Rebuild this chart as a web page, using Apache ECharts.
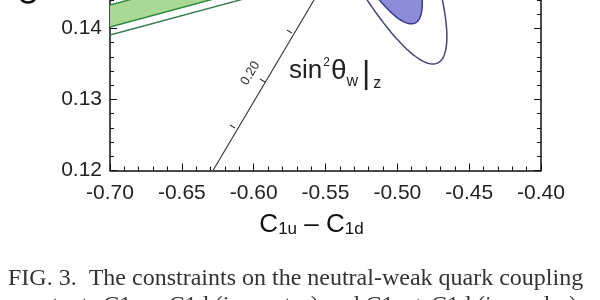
<!DOCTYPE html>
<html>
<head>
<meta charset="utf-8">
<style>
    html, body {
        margin: 0;
        padding: 0;
        overflow: hidden;
        background: #fff;
    }
    #chart {
        position: absolute;
        left: 0;
        top: -43px;
    }
</style>
</head>
<body>
<div id="chart" style="width:600px; height:343px;"></div>
<script src="https://cdn.jsdelivr.net/npm/echarts@6/dist/echarts.min.js"></script>
<script>
    // axis ranges (the top of the plot is cut off by the window)
    var xRange = [-0.70, -0.40];
    var yRange = [0.12, 0.15];

    // green band: edges given by two [x, y] points each
    var bandInnerLow = [[-0.70, 0.14021], [-0.55, 0.14841]];
    var bandInnerHigh = [[-0.70, 0.14331], [-0.55, 0.15151]];
    var bandOuterLow = [[-0.70, 0.13908], [-0.55, 0.14728]];
    var bandOuterHigh = [[-0.70, 0.14444], [-0.55, 0.15264]];

    // blue contours: [center, semi-axis 1, semi-axis 2]
    var ellipseOuter = [[-0.5309, 0.16066], [-0.0589, 0.02552], [0.0284, 0.00268]];
    var ellipseInner = [[-0.5336, 0.16066], [-0.0459, 0.0199], [0.0222, 0.00209]];

    // sin^2 theta_w line and its ticks
    var sinLine = [[-0.6283, 0.12], [-0.5112, 0.16]];
    var sinTicks = [[-0.6130, 0.12599], [-0.5921, 0.13246], [-0.5733, 0.13937]];
    var sinTickLabels = ['', '0.20', ''];

    var chart = echarts.init(document.getElementById('chart'), null, {renderer: 'canvas'});

    function ellipsePoints(api, e) {
        var pts = [];
        for (var i = 0; i <= 160; i++) {
            var t = i / 160 * Math.PI * 2;
            pts.push(api.coord([
                e[0][0] + Math.cos(t) * e[1][0] + Math.sin(t) * e[2][0],
                e[0][1] + Math.cos(t) * e[1][1] + Math.sin(t) * e[2][1]
            ]));
        }
        return pts;
    }

    function coords(api, arr) {
        return arr.map(function (p) { return api.coord(p); });
    }

    var axisFont = {fontFamily: 'Liberation Sans', fontSize: 21, color: '#222'};
    var tickStyle = {color: '#111'};

    chart.setOption({
        backgroundColor: '#fff',
        animation: false,
        grid: {left: 110, right: 59, top: 0.5, bottom: 129.5, outerBoundsMode: 'none', containLabel: false},
        xAxis: {
            type: 'value', min: xRange[0], max: xRange[1], interval: 0.05,
            axisLine: {lineStyle: {color: '#111', width: 1.5}},
            axisTick: {inside: true, length: 7, lineStyle: tickStyle},
            minorTick: {show: true, splitNumber: 5, length: 4, lineStyle: tickStyle},
            splitLine: {show: false},
            axisLabel: Object.assign({margin: 12, formatter: function (v) { return v.toFixed(2); }}, axisFont),
            name: '{c|C}{s|1u}{d| – }{c|C}{s|1d}',
            nameLocation: 'middle',
            nameGap: 41,
            nameTextStyle: {
                padding: [0, 28, 0, 0],
                rich: {
                    c: {fontFamily: 'Liberation Sans', fontSize: 26, lineHeight: 26, verticalAlign: 'bottom', color: '#111'},
                    s: {fontFamily: 'Liberation Sans', fontSize: 17, lineHeight: 17, verticalAlign: 'bottom', color: '#111'},
                    d: {fontFamily: 'Liberation Sans', fontSize: 26, lineHeight: 26, verticalAlign: 'bottom', color: '#111'}
                }
            }
        },
        yAxis: [{
            type: 'value', min: yRange[0], max: yRange[1], interval: 0.01,
            axisLine: {show: true, lineStyle: {color: '#111', width: 1.5}},
            axisTick: {show: true, inside: true, length: 7, lineStyle: tickStyle},
            minorTick: {show: true, splitNumber: 5, length: 4, lineStyle: tickStyle},
            splitLine: {show: false},
            axisLabel: Object.assign({margin: 8, formatter: function (v) { return v.toFixed(2); }}, axisFont)
        }, {
            type: 'value', min: yRange[0], max: yRange[1], interval: 0.01, position: 'right',
            axisLine: {show: true, lineStyle: {color: '#111', width: 1.5}},
            axisTick: {show: true, inside: true, length: 7, lineStyle: tickStyle},
            minorTick: {show: true, splitNumber: 5, length: 4, lineStyle: tickStyle},
            splitLine: {show: false},
            axisLabel: {show: false}
        }],
        series: [{
            type: 'custom',
            clip: true,
            data: [[-0.65, 0.14]],
            renderItem: function (params, api) {
                var lo = coords(api, bandInnerLow), hi = coords(api, bandInnerHigh);
                var olo = coords(api, bandOuterLow), ohi = coords(api, bandOuterHigh);
                return {
                    type: 'group', children: [
                        {type: 'polygon', shape: {points: [lo[0], lo[1], hi[1], hi[0]]}, style: {fill: '#a9d994'}},
                        {type: 'polyline', shape: {points: lo}, style: {stroke: '#2f8a3f', lineWidth: 1.4, fill: null}},
                        {type: 'polyline', shape: {points: hi}, style: {stroke: '#2f8a3f', lineWidth: 1.4, fill: null}},
                        {type: 'polyline', shape: {points: olo}, style: {stroke: '#357a52', lineWidth: 1.4, fill: null}},
                        {type: 'polyline', shape: {points: ohi}, style: {stroke: '#357a52', lineWidth: 1.4, fill: null}}
                    ]
                };
            }
        }, {
            type: 'custom',
            clip: true,
            data: [[-0.53, 0.16]],
            renderItem: function (params, api) {
                return {
                    type: 'group', children: [
                        {type: 'polygon', shape: {points: ellipsePoints(api, ellipseOuter)},
                            style: {fill: null, stroke: '#46467a', lineWidth: 1.5}},
                        {type: 'polygon', shape: {points: ellipsePoints(api, ellipseInner)},
                            style: {fill: '#8c8cd8', stroke: '#3a3a8c', lineWidth: 1.5}}
                    ]
                };
            }
        }, {
            type: 'custom',
            clip: true,
            data: [[-0.6, 0.13]],
            renderItem: function (params, api) {
                var ends = coords(api, sinLine);
                var dx = ends[1][0] - ends[0][0], dy = ends[1][1] - ends[0][1];
                var len = Math.sqrt(dx * dx + dy * dy);
                dx /= len; dy /= len;
                var nx = dy, ny = -dx;
                var angle = Math.atan2(-dy, dx);
                var children = [
                    {type: 'line', shape: {x1: ends[0][0], y1: ends[0][1], x2: ends[1][0], y2: ends[1][1]},
                        style: {stroke: '#333', lineWidth: 1.1}}
                ];
                sinTicks.forEach(function (t, i) {
                    var p = api.coord(t);
                    children.push({type: 'line', shape: {x1: p[0], y1: p[1], x2: p[0] + nx * 6, y2: p[1] + ny * 6},
                        style: {stroke: '#333', lineWidth: 1.1}});
                    if (sinTickLabels[i]) {
                        children.push({
                            type: 'text', x: p[0] + nx * 17, y: p[1] + ny * 17, rotation: angle,
                            style: {text: sinTickLabels[i], x: 0, y: 0, align: 'center', verticalAlign: 'middle',
                                fontFamily: 'Liberation Sans', fontSize: 13, fill: '#333'}
                        });
                    }
                });
                return {type: 'group', children: children};
            }
        }],
        graphic: [{
            type: 'text', left: 289, top: 100,
            style: {
                text: '{a|sin}{p|2}{t|θ}{w|w}{b||}{z|z}',
                rich: {
                    a: {fontFamily: 'Liberation Sans', fontSize: 26, lineHeight: 26, padding: [0, 0, 8, 0], verticalAlign: 'bottom', fill: '#222'},
                    t: {fontFamily: 'Liberation Sans', fontSize: 28, lineHeight: 28, padding: [0, 0, 7, 1], verticalAlign: 'bottom', fill: '#222'},
                    p: {fontFamily: 'Liberation Sans', fontSize: 12, lineHeight: 12, padding: [0, 0, 23, 1], verticalAlign: 'bottom', fill: '#222'},
                    w: {fontFamily: 'Liberation Sans', fontSize: 16, lineHeight: 16, padding: [0, 1, 2, 0], verticalAlign: 'bottom', fill: '#222'},
                    b: {fontFamily: 'Liberation Sans', fontSize: 32, lineHeight: 34, padding: [0, 0, 2, 3], verticalAlign: 'bottom', fill: '#222'},
                    z: {fontFamily: 'Liberation Sans', fontSize: 16, lineHeight: 16, padding: [0, 0, 0, 3], verticalAlign: 'bottom', fill: '#222'}
                }
            }
        }, {
            type: 'text', x: 30, y: 48, rotation: Math.PI / 2,
            style: {text: 'C1u + C1d', x: 0, y: 0, align: 'left', verticalAlign: 'middle',
                fontFamily: 'Liberation Sans', fontSize: 26, fill: '#111'}
        }, {
            type: 'text', x: 8, y: 322,
            style: {text: 'FIG. 3.  The constraints on the neutral-weak quark coupling', x: 0, y: 0,
                align: 'left', verticalAlign: 'middle', fontFamily: 'Liberation Serif', fontSize: 24, fill: '#333'}
        }, {
            type: 'text', x: 8, y: 349,
            style: {text: 'constants C1u − C1d (isovector) and C1u + C1d (isoscalar).', x: 0, y: 0,
                align: 'left', verticalAlign: 'middle', fontFamily: 'Liberation Serif', fontSize: 24, fill: '#333'}
        }]
    });
</script>
</body>
</html>
